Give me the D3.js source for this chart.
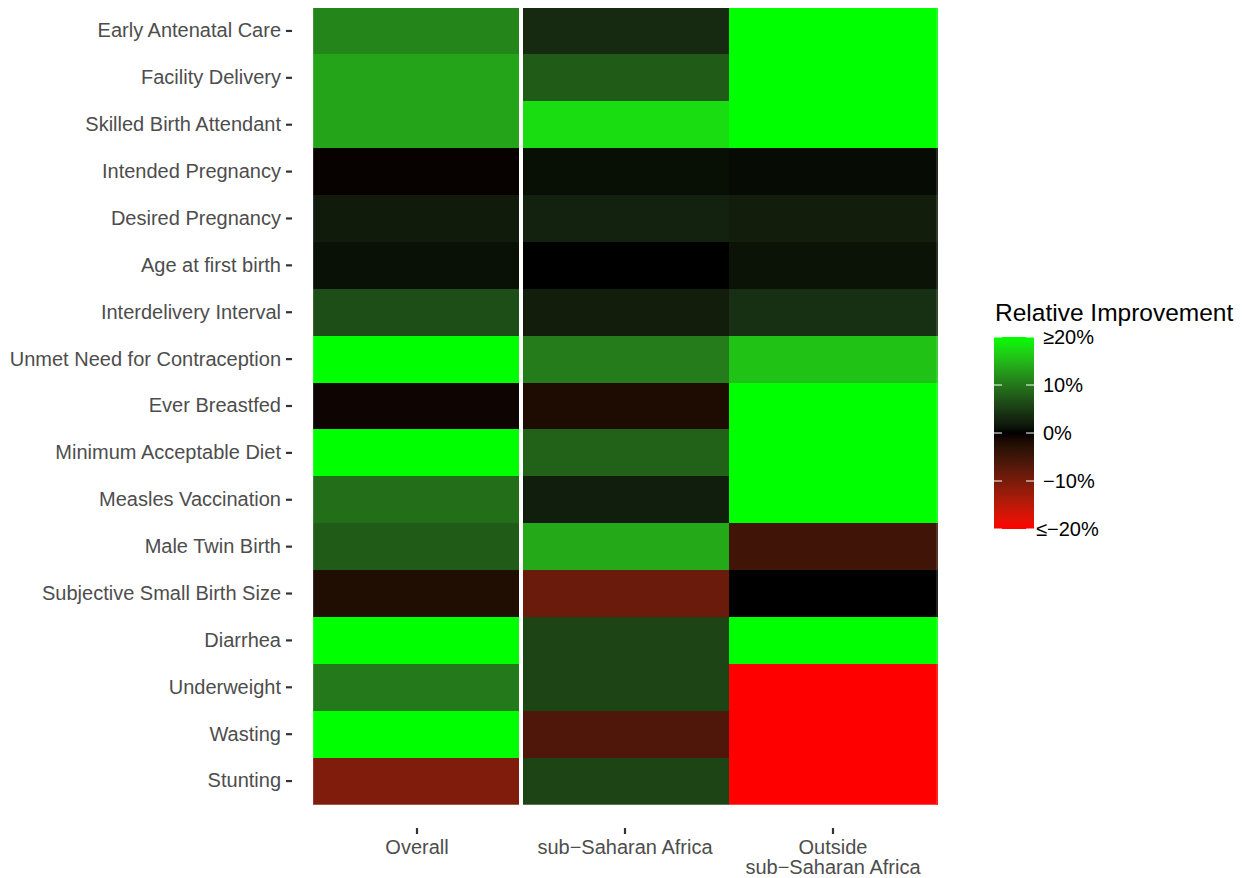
<!DOCTYPE html>
<html>
<head>
<meta charset="utf-8">
<script src="https://cdn.jsdelivr.net/npm/d3@7"></script>
<style>
  html, body { margin: 0; padding: 0; background: #fff; }
  svg { display: block; font-family: "Liberation Sans", Arial, Helvetica, sans-serif; }
</style>
</head>
<body>
<svg id="chart" width="1246" height="878"></svg>
<script>
// Indicators (rows, top to bottom)
const indicators = [
  "Early Antenatal Care", "Facility Delivery", "Skilled Birth Attendant",
  "Intended Pregnancy", "Desired Pregnancy", "Age at first birth",
  "Interdelivery Interval", "Unmet Need for Contraception", "Ever Breastfed",
  "Minimum Acceptable Diet", "Measles Vaccination", "Male Twin Birth",
  "Subjective Small Birth Size", "Diarrhea", "Underweight", "Wasting", "Stunting"
];

// Regions (columns); "\n" splits a label over two lines
const regions = ["Overall", "sub\u2212Saharan Africa", "Outside\nsub\u2212Saharan Africa"];

// Relative improvement (%) per indicator, one array per region
const overall = [11.1, 13.5, 13.5, -0.3, 1.9, 1.0, 6.6, 24.0, -0.6, 27.0, 9.3, 7.7, -2.2, 23.0, 10.1, 26.0, -10.5];
const subSaharan = [3.4, 7.7, 17.6, 0.9, 2.6, 0.0, 2.1, 10.4, -1.8, 8.2, 2.2, 13.8, -8.8, 5.7, 5.7, -6.3, 5.7];
const outsideSSA = [31.0, 28.0, 29.0, 0.6, 2.1, 1.1, 3.8, 15.7, 33.0, 30.0, 35.0, -5.1, 0.0, 22.0, -27.0, -31.0, -24.0];

// Colour bar breaks and labels
const legendBreaks = [-20, -10, 0, 10, 20];
const legendLabels = ["\u2264\u221220%", "\u221210%", "0%", "10%", "\u226520%"];

const seriesByRegion = [overall, subSaharan, outsideSSA];
const cells = [];
regions.forEach((r, j) => {
  indicators.forEach((ind, i) => cells.push({ region: r, indicator: ind, value: seriesByRegion[j][i] }));
});

// Diverging red–black–green fill, squished to ±20%
const toGreen = d3.interpolateLab("#000000", "#00ff00");
const toRed = d3.interpolateLab("#000000", "#ff0000");
const fill = v => {
  const c = Math.max(-20, Math.min(20, v));
  return c >= 0 ? toGreen(c / 20) : toRed(-c / 20);
};

const svg = d3.select("#chart");
const panel = { left: 313, right: 937, top: 7.5, bottom: 804.5 };

const x = d3.scaleBand().domain(regions).range([panel.left, panel.right]).padding(0);
const y = d3.scaleBand().domain(indicators).range([panel.top, panel.bottom]).padding(0);

// Tiles
svg.append("g")
  .attr("shape-rendering", "crispEdges")
  .selectAll("rect")
  .data(cells)
  .join("rect")
  .attr("x", d => x(d.region))
  .attr("y", d => y(d.indicator))
  .attr("width", x.bandwidth() + 0.5)
  .attr("height", y.bandwidth() + 0.5)
  .attr("fill", d => fill(d.value));

// Faint outline around the tile block
svg.append("rect")
  .attr("x", panel.left).attr("y", panel.top)
  .attr("width", panel.right - panel.left).attr("height", panel.bottom - panel.top)
  .attr("fill", "none")
  .attr("stroke", "rgba(255,255,255,0.45)")
  .attr("stroke-width", 0.6);

// White separator between the pooled column and the regional columns
const sepX = x(regions[1]);
svg.append("line")
  .attr("x1", sepX).attr("x2", sepX)
  .attr("y1", panel.top - 0.5).attr("y2", panel.bottom + 0.5)
  .attr("stroke", "#fff")
  .attr("stroke-width", 4);

// Y axis
const yAxis = svg.append("g")
  .attr("transform", "translate(292,0)")
  .call(d3.axisLeft(y).tickSize(6).tickPadding(5));
yAxis.select(".domain").remove();
yAxis.selectAll(".tick line").attr("stroke", "#333").attr("stroke-width", 2.2);
yAxis.selectAll(".tick text")
  .attr("font-size", 20)
  .attr("fill", "#4d4d4d")
  .attr("font-family", "'Liberation Sans', Arial, Helvetica, sans-serif");

// X axis (two-line labels)
const xAxis = svg.append("g")
  .attr("transform", "translate(0,828)")
  .call(d3.axisBottom(x).tickSize(6).tickPadding(0));
xAxis.select(".domain").remove();
xAxis.selectAll(".tick line").attr("stroke", "#333").attr("stroke-width", 2.2);
xAxis.selectAll(".tick text")
  .attr("font-size", 20)
  .attr("fill", "#4d4d4d")
  .attr("font-family", "'Liberation Sans', Arial, Helvetica, sans-serif")
  .attr("y", 0)
  .attr("dy", null)
  .each(function (d) {
    const t = d3.select(this);
    t.text(null);
    d.split("\n").forEach((line, k) => {
      t.append("tspan").attr("x", 0).attr("y", 26 + k * 20).text(line);
    });
  });

// Legend
const legend = svg.append("g");
legend.append("text")
  .attr("x", 995).attr("y", 321)
  .attr("font-size", 24.5)
  .attr("fill", "#000")
  .text("Relative Improvement");

const bar = { x: 994, w: 40 };
const ly = d3.scaleLinear().domain([-20, 20]).range([529, 337]);

const defs = svg.append("defs");
const grad = defs.append("linearGradient")
  .attr("id", "improvementGradient")
  .attr("x1", 0).attr("y1", 1).attr("x2", 0).attr("y2", 0);
d3.range(-20, 20.01, 1).forEach(v => {
  grad.append("stop").attr("offset", (v + 20) / 40).attr("stop-color", fill(v));
});
legend.append("rect")
  .attr("x", bar.x).attr("y", ly(20))
  .attr("width", bar.w).attr("height", ly(-20) - ly(20))
  .attr("fill", "url(#improvementGradient)");

const ticks = legend.append("g").selectAll("g").data(legendBreaks).join("g");
ticks.append("line")
  .attr("x1", bar.x).attr("x2", bar.x + 8)
  .attr("y1", d => ly(d)).attr("y2", d => ly(d))
  .attr("stroke", "#fff").attr("stroke-width", 1);
ticks.append("line")
  .attr("x1", bar.x + bar.w - 8).attr("x2", bar.x + bar.w)
  .attr("y1", d => ly(d)).attr("y2", d => ly(d))
  .attr("stroke", "#fff").attr("stroke-width", 1);

legend.append("g").selectAll("text")
  .data(legendBreaks)
  .join("text")
  .attr("x", d => (d === -20 ? 1036 : 1043))
  .attr("y", d => ly(d))
  .attr("dy", "0.36em")
  .attr("font-size", 20)
  .attr("fill", "#000")
  .text((d, i) => legendLabels[i]);
</script>
</body>
</html>
